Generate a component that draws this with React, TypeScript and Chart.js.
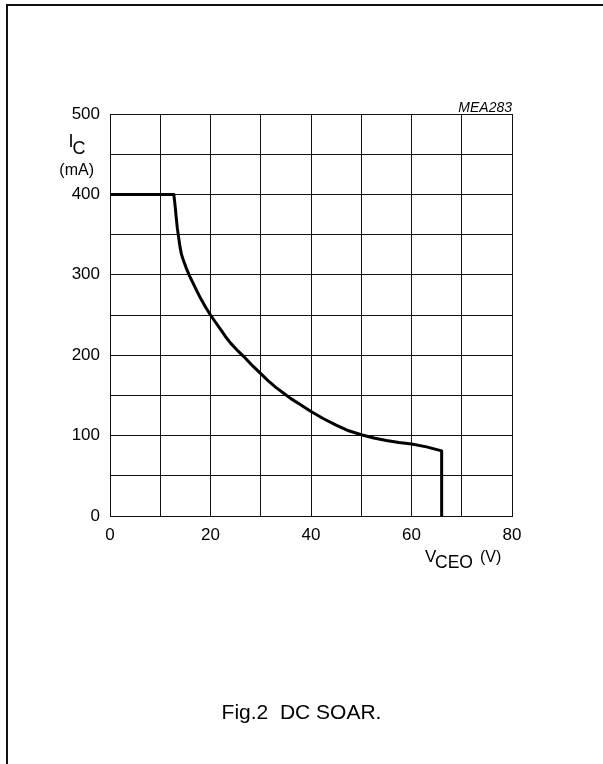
import React, { useEffect, useRef } from "react";
import { Chart, registerables } from "chart.js";

Chart.register(...registerables);

// Data (DC SOAR curve)
const vceoValues = [0, 12.7, 12.85, 13.0, 13.2, 13.4, 13.6, 13.9, 14.2, 14.6, 15.2, 15.8, 16.5, 17.2, 18.0, 19.0, 20, 21, 22, 23, 24, 25.5, 27, 28.5, 30, 31.5, 33, 34.5, 36, 38, 40, 42.5, 45, 47.5, 50, 52.5, 55, 57.5, 60, 63, 66, 66];
const icValues = [400, 400, 392, 383, 370, 358, 349, 336, 326, 318, 308, 299, 290, 281, 271, 260, 250, 241, 232, 223, 215, 205, 196, 186, 177, 168, 160, 153, 146, 138, 130, 121, 113, 106, 101, 97, 94, 91.5, 89.5, 86, 81, 0];

const xTickLabels = ["0", "20", "40", "60", "80"];
const yTickLabels = ["0", "100", "200", "300", "400", "500"];

const captionText = "Fig.2  DC SOAR.";
const figureCode = "MEA283";

const FONT = "'Liberation Sans', Arial, Helvetica, sans-serif";

const titlesPlugin = {
  id: "axisTitles",
  afterDraw(chart: any) {
    const ctx = chart.ctx;
    const area = chart.chartArea;
    ctx.save();
    ctx.fillStyle = "#000";
    ctx.textBaseline = "alphabetic";
    // figure code
    ctx.font = `italic 14px ${FONT}`;
    ctx.textAlign = "right";
    ctx.fillText(figureCode, area.right, area.top - 2.5);
    // y title: I_C (mA)
    ctx.textAlign = "left";
    ctx.font = `18px ${FONT}`;
    ctx.fillText("I", 68.5, 147);
    ctx.fillText("C", 72.5, 153.5);
    ctx.font = `16px ${FONT}`;
    ctx.textAlign = "right";
    ctx.fillText("(mA)", 94, 174.5);
    // x title: V_CEO (V)
    ctx.textAlign = "left";
    ctx.font = `17px ${FONT}`;
    ctx.fillText("V", 425, 561.7);
    ctx.font = `17.5px ${FONT}`;
    ctx.fillText("CEO", 435, 568);
    ctx.font = `16px ${FONT}`;
    ctx.fillText("(V)", 480, 561.7);
    ctx.restore();
  },
};

export default function App() {
  const canvasRef = useRef<HTMLCanvasElement | null>(null);

  useEffect(() => {
    if (!canvasRef.current) return;
    const points = vceoValues.map((v, i) => ({ x: v, y: icValues[i] }));
    const chart = new Chart(canvasRef.current, {
      type: "scatter",
      data: {
        datasets: [
          {
            data: points,
            showLine: true,
            borderColor: "#000",
            borderWidth: 3,
            pointRadius: 0,
            pointHoverRadius: 0,
            tension: 0,
            fill: false,
            borderJoinStyle: "round",
            borderCapStyle: "butt",
          } as any,
        ],
      },
      options: {
        responsive: false,
        animation: false,
        events: [],
        layout: { padding: { left: 70, top: 114, right: 91, bottom: 208 } },
        plugins: { legend: { display: false }, tooltip: { enabled: false }, title: { display: false } },
        scales: {
          x: {
            type: "linear",
            min: 0,
            max: 80,
            afterFit: (scale: any) => {
              scale.height = 40;
            },
            ticks: {
              stepSize: 10,
              autoSkip: false,
              maxRotation: 0,
              padding: 9,
              color: "#000",
              font: { family: FONT, size: 17 },
              callback: (v: any) => (xTickLabels.includes(String(v)) ? String(v) : ""),
            },
            grid: { color: "#111", lineWidth: 1, drawTicks: false },
            border: { display: true, color: "#111", width: 1 },
          },
          y: {
            type: "linear",
            min: 0,
            max: 500,
            afterFit: (scale: any) => {
              scale.width = 40;
            },
            ticks: {
              stepSize: 50,
              autoSkip: false,
              padding: 10,
              color: "#000",
              font: { family: FONT, size: 17 },
              callback: (v: any) => (yTickLabels.includes(String(v)) ? String(v) : ""),
            },
            grid: { color: "#111", lineWidth: 1, drawTicks: false },
            border: { display: true, color: "#111", width: 1 },
          },
        },
      },
      plugins: [titlesPlugin],
    });
    return () => chart.destroy();
  }, []);

  return (
    <div
      style={{
        position: "absolute",
        left: 0,
        top: 0,
        width: 603,
        height: 764,
        overflow: "hidden",
        background: "#fff",
      }}
    >
      <div
        style={{
          position: "absolute",
          left: 6,
          top: 4,
          width: 800,
          height: 900,
          borderLeft: "2px solid #111",
          borderTop: "2px solid #111",
        }}
      />
      <canvas
        ref={canvasRef}
        width={603}
        height={764}
        style={{ position: "absolute", left: 0, top: 0, width: 603, height: 764 }}
      />
      <div
        style={{
          position: "absolute",
          left: 0,
          top: 700,
          width: 603,
          textAlign: "center",
          fontFamily: FONT,
          fontSize: 21,
          lineHeight: "24px",
          color: "#000",
          whiteSpace: "pre",
        }}
      >
        {captionText}
      </div>
    </div>
  );
}
